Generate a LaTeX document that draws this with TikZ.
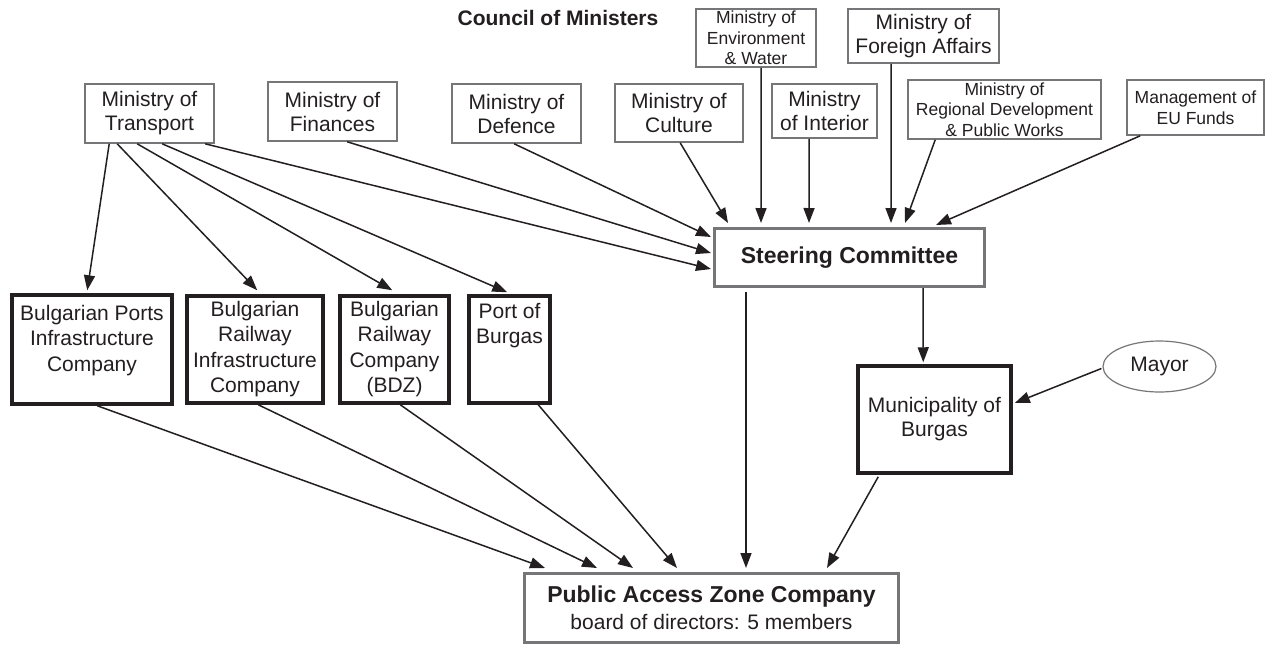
\documentclass[tikz,border=0pt]{standalone}
\usepackage{fontspec}
\setmainfont{Liberation Sans}
\usetikzlibrary{arrows.meta,shapes.geometric}
\definecolor{ink}{RGB}{35,31,32}
\definecolor{frame}{RGB}{118,118,120}
% top-aligned text block inside a fixed-height box
\newcommand{\topblock}[3]{\parbox[c][#1][t]{#2}{\centering\fontsize{21}{25.5}\selectfont #3}}
\begin{document}
\begin{tikzpicture}[x=1pt,y=-1pt,
  every node/.style={text=ink, inner sep=0pt, align=center},
  fbig/.style={font=\fontsize{21}{24}\selectfont},
  fsmall/.style={font=\fontsize{17.5}{20.5}\selectfont},
  fhead/.style={font=\fontsize{23}{27}\selectfont\bfseries},
  minbox/.style={rectangle, draw=frame, line width=1.6pt, fill=white},
  cobox/.style={rectangle, draw=ink, line width=3.5pt, fill=white},
  keybox/.style={rectangle, draw=frame, line width=3pt, fill=white},
  link/.style={draw=ink, line width=1.5pt, -{Triangle[length=15pt,width=11pt]}}
]
\useasboundingbox (0,0) rectangle (1274,646);

% heading
\node[anchor=base, font=\fontsize{21}{24}\selectfont\bfseries] (council) at (558,25) {Council of Ministers};

% ministries
\node[minbox, fbig, minimum width=129, minimum height=59] (tr)  at (149.5,113.5) {Ministry of\\Transport};
\node[minbox, fbig, minimum width=129, minimum height=59] (fin) at (332.5,111.5) {Ministry of\\Finances};
\node[minbox, fbig, minimum width=129, minimum height=59] (def) at (516.5,113.5) {Ministry of\\Defence};
\node[minbox, fbig, minimum width=128, minimum height=58] (cul) at (679,113) {Ministry of\\Culture};
\node[minbox, fsmall, minimum width=120, minimum height=58] (env) at (756,38) {Ministry of\\Environment\\\& Water};
\node[minbox, fbig, minimum width=105, minimum height=54] (int) at (824.5,111) {Ministry\\of Interior};
\node[minbox, fbig, minimum width=151, minimum height=54] (for) at (923.5,36) {Ministry of\\Foreign Affairs};
\node[minbox, fsmall, minimum width=193, minimum height=59] (reg) at (1004.5,109.5) {Ministry of\\Regional Development\\\& Public Works};
\node[minbox, fsmall, minimum width=137, minimum height=55] (eu)  at (1195.5,107.5) {Management of\\EU Funds};

% steering committee
\node[keybox, fhead, minimum width=270, minimum height=58] (sc) at (849.5,257.5) {Steering Committee};

% companies
\node[cobox, minimum width=160, minimum height=109] (bpic) at (92,349.5) {\topblock{89pt}{156pt}{Bulgarian Ports\\Infrastructure\\Company}};
\node[cobox, minimum width=136, minimum height=107] (bric) at (255,349.5) {\topblock{97pt}{134pt}{Bulgarian\\Railway\\Infrastructure\\Company}};
\node[cobox, minimum width=109, minimum height=107] (bdz)  at (394.5,349.5) {\topblock{97pt}{106pt}{Bulgarian\\Railway\\Company\\(BDZ)}};
\node[cobox, minimum width=81, minimum height=107]  (pob)  at (509.5,349.5) {\topblock{93pt}{80pt}{Port of\\Burgas}};

% municipality and mayor
\node[cobox, fbig, minimum width=153, minimum height=107] (mun) at (934.5,419.5) {Municipality of\\Burgas};
\node[ellipse, draw=frame, line width=1.2pt, fill=white, fbig, minimum width=113, minimum height=51] (mayor) at (1159.5,366.5) {Mayor};

% public access zone company
\node[keybox, minimum width=374, minimum height=69] (paz) at (711.5,608)
  {{\fontsize{23}{27}\selectfont\bfseries Public Access Zone Company}\\[6pt]
   {\fontsize{21}{24}\selectfont board of directors: 5 members}};

% Ministry of Transport to its companies and to the committee
\draw[link] ([xshift=25pt]tr.south west) -- ([xshift=77pt,yshift=3pt]bpic.north west);
\draw[link] ([xshift=33pt]tr.south west) -- ([xshift=72pt,yshift=4pt]bric.north west);
\draw[link] ([xshift=53pt]tr.south west) -- ([xshift=54pt,yshift=4pt]bdz.north west);
\draw[link] ([xshift=78pt]tr.south west) -- ([xshift=40pt,yshift=2pt]pob.north west);
\draw[link] ([xshift=121pt]tr.south west) -- ([xshift=-2pt,yshift=-11.5pt]sc.west);

% other ministries to the committee
\draw[link] ([xshift=80pt]fin.south west) -- ([xshift=-2pt,yshift=4.5pt]sc.west);
\draw[link] ([xshift=63pt]def.south west) -- ([xshift=-2pt,yshift=20.5pt]sc.west);
\draw[link] ([xshift=66pt]cul.south west) -- ([xshift=15pt,yshift=4pt]sc.north west);
\draw[link] ([xshift=66pt]env.south west) -- ([xshift=48pt,yshift=4pt]sc.north west);
\draw[link] ([xshift=38pt]int.south west) -- ([xshift=96pt,yshift=4pt]sc.north west);
\draw[link] ([xshift=44pt]for.south west) -- ([xshift=178pt,yshift=4pt]sc.north west);
\draw[link] ([xshift=28pt]reg.south west) -- ([xshift=192pt,yshift=4pt]sc.north west);
\draw[link] ([xshift=14pt]eu.south west)  -- ([xshift=223pt,yshift=2pt]sc.north west);

% committee and municipality
\draw[link] ([xshift=210pt]sc.south west) -- ([xshift=67pt,yshift=2pt]mun.north west);
\draw[link] ([xshift=-1pt,yshift=-2pt]mayor.west) -- ([xshift=2pt,yshift=16.5pt]mun.east);

% everything into the public access zone company
\draw[link] ([xshift=87pt]bpic.south west) -- ([xshift=22pt,yshift=4pt]paz.north west);
\draw[link] ([xshift=73pt]bric.south west) -- ([xshift=74pt,yshift=4pt]paz.north west);
\draw[link] ([xshift=62pt]bdz.south west)  -- ([xshift=110pt,yshift=4pt]paz.north west);
\draw[link] ([xshift=71pt]pob.south west)  -- ([xshift=154pt,yshift=4pt]paz.north west);
\draw[link] ([xshift=33pt,yshift=-4pt]sc.south west) -- ([xshift=223pt,yshift=4pt]paz.north west);
\draw[link] ([xshift=22pt,yshift=-2pt]mun.south west) -- ([xshift=304pt,yshift=4pt]paz.north west);
\end{tikzpicture}
\end{document}
